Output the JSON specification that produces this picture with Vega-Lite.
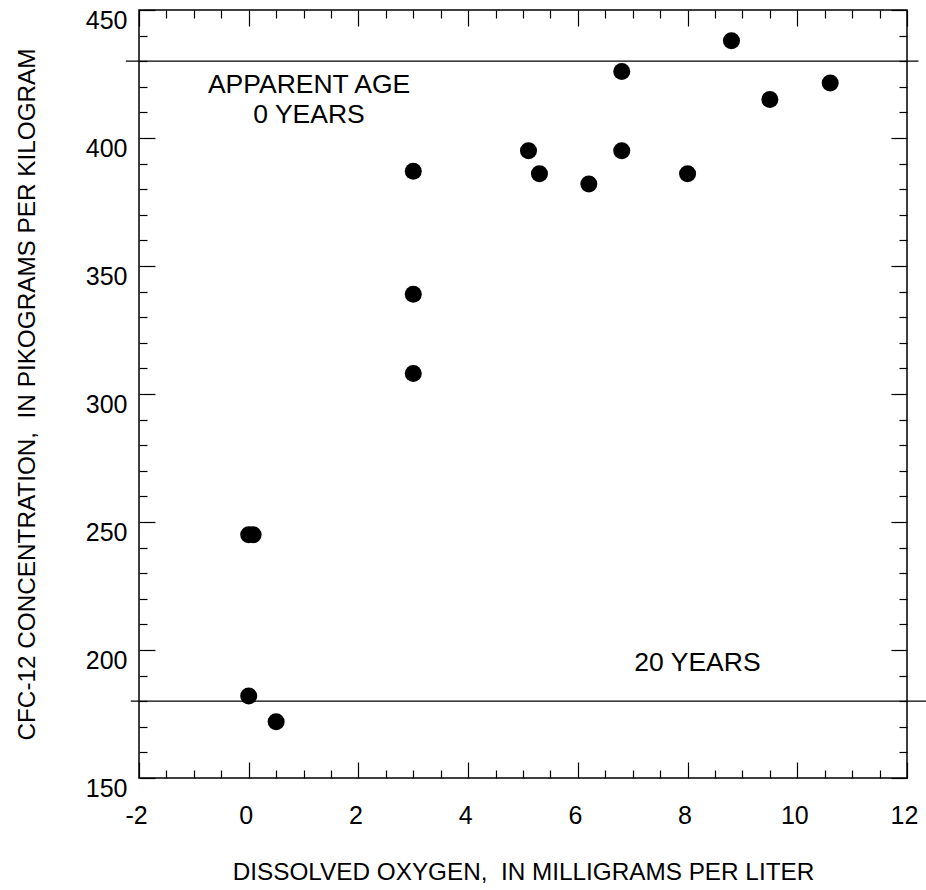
{
  "$schema": "https://vega.github.io/schema/vega-lite/v6.json",
  "width": 768,
  "height": 768,
  "autosize": {"type": "none"},
  "padding": {"left": 139, "top": 10, "right": 19, "bottom": 112},
  "background": "white",
  "config": {
    "view": {"stroke": "black", "strokeWidth": 1.5},
    "font": "Liberation Sans",
    "axis": {
      "domain": false,
      "grid": false,
      "labelFlush": false,
      "tickColor": "black",
      "tickWidth": 1.2,
      "labelColor": "black",
      "titleColor": "black",
      "labelFont": "Liberation Sans",
      "titleFont": "Liberation Sans",
      "labelFontSize": 25,
      "titleFontSize": 24.3,
      "titleFontWeight": "normal"
    }
  },
  "datasets": {
    "samples": [
      {"oxygen": 0.0, "cfc12": 245},
      {"oxygen": 0.08, "cfc12": 245},
      {"oxygen": 0.0, "cfc12": 182},
      {"oxygen": 0.5, "cfc12": 172},
      {"oxygen": 3.0, "cfc12": 387},
      {"oxygen": 3.0, "cfc12": 339},
      {"oxygen": 3.0, "cfc12": 308},
      {"oxygen": 5.1, "cfc12": 395},
      {"oxygen": 5.3, "cfc12": 386},
      {"oxygen": 6.2, "cfc12": 382},
      {"oxygen": 6.8, "cfc12": 426},
      {"oxygen": 6.8, "cfc12": 395},
      {"oxygen": 8.0, "cfc12": 386},
      {"oxygen": 8.8, "cfc12": 438},
      {"oxygen": 9.5, "cfc12": 415},
      {"oxygen": 10.6, "cfc12": 421.5}
    ],
    "ageLines": [
      {"from": -2.24, "to": 12.21, "cfc12": 430},
      {"from": -2.15, "to": 12.4, "cfc12": 180}
    ],
    "notes": [
      {"oxygen": 1.1, "cfc12": 420.8, "note": "APPARENT AGE"},
      {"oxygen": 1.1, "cfc12": 409.1, "note": "0 YEARS"},
      {"oxygen": 8.18, "cfc12": 194.9, "note": "20 YEARS"}
    ]
  },
  "resolve": {"axis": {"x": "independent", "y": "independent"}},
  "layer": [
    {
      "data": {"name": "samples"},
      "mark": {"type": "point", "shape": "circle", "filled": true, "color": "black", "opacity": 1, "size": 290},
      "encoding": {
        "x": {
          "field": "oxygen", "type": "quantitative",
          "scale": {"domain": [-2, 12], "nice": false, "zero": false},
          "axis": {
            "orient": "bottom", "ticks": false, "labelPadding": 25, "labelOffset": -3,
            "values": [-2, 0, 2, 4, 6, 8, 10, 12],
            "labelExpr": "'' + datum.value",
            "title": "DISSOLVED OXYGEN, \u00a0IN MILLIGRAMS PER LITER",
            "titleX": 384, "titleY": 94, "titleBaseline": "middle", "titleAlign": "center"
          }
        },
        "y": {
          "field": "cfc12", "type": "quantitative",
          "scale": {"domain": [150, 450], "nice": false, "zero": false},
          "axis": {
            "orient": "left", "ticks": false, "labelPadding": 12, "labelOffset": 10,
            "values": [150, 200, 250, 300, 350, 400, 450],
            "title": "CFC-12 CONCENTRATION, \u00a0IN PIKOGRAMS PER KILOGRAM",
            "titleX": -112, "titleY": 384, "titleAngle": 270,
            "titleBaseline": "middle", "titleAlign": "center"
          }
        }
      }
    },
    {
      "data": {"name": "ageLines"},
      "transform": [{"filter": "datum.cfc12 == 430"}],
      "mark": {"type": "rule", "color": "black", "strokeWidth": 1.3, "clip": false},
      "encoding": {
        "x": {
          "field": "from", "type": "quantitative",
          "axis": {
            "orient": "bottom", "labels": false, "title": null, "offset": -16, "tickSize": 16,
            "values": [-2, 0, 2, 4, 6, 8, 10, 12]
          }
        },
        "x2": {"field": "to"},
        "y": {
          "field": "cfc12", "type": "quantitative",
          "axis": {
            "orient": "left", "labels": false, "title": null, "offset": -16, "tickSize": 16,
            "values": [150, 200, 250, 300, 350, 400, 450]
          }
        }
      }
    },
    {
      "data": {"name": "ageLines"},
      "transform": [{"filter": "datum.cfc12 == 180"}],
      "mark": {"type": "rule", "color": "black", "strokeWidth": 1.3, "clip": false},
      "encoding": {
        "x": {
          "field": "from", "type": "quantitative",
          "axis": {
            "orient": "bottom", "labels": false, "title": null, "offset": -8, "tickSize": 8,
            "values": [-1.5, -1, -0.5, 0.5, 1, 1.5, 2.5, 3, 3.5, 4.5, 5, 5.5, 6.5, 7, 7.5, 8.5, 9, 9.5, 10.5, 11, 11.5]
          }
        },
        "x2": {"field": "to"},
        "y": {
          "field": "cfc12", "type": "quantitative",
          "axis": {
            "orient": "left", "labels": false, "title": null, "offset": -8, "tickSize": 8,
            "values": [160, 170, 180, 190, 210, 220, 230, 240, 260, 270, 280, 290, 310, 320, 330, 340, 360, 370, 380, 390, 410, 420, 430, 440]
          }
        }
      }
    },
    {
      "data": {"name": "notes"},
      "transform": [{"filter": "datum.oxygen < 5"}],
      "mark": {"type": "text", "align": "center", "baseline": "middle", "fontSize": 26.5, "color": "black", "font": "Liberation Sans"},
      "encoding": {
        "x": {
          "field": "oxygen", "type": "quantitative",
          "axis": {
            "orient": "top", "labels": false, "title": null, "offset": -16, "tickSize": 16,
            "values": [-2, 0, 2, 4, 6, 8, 10, 12]
          }
        },
        "y": {
          "field": "cfc12", "type": "quantitative",
          "axis": {
            "orient": "right", "labels": false, "title": null, "offset": -16, "tickSize": 16,
            "values": [150, 200, 250, 300, 350, 400, 450]
          }
        },
        "text": {"field": "note"}
      }
    },
    {
      "data": {"name": "notes"},
      "transform": [{"filter": "datum.oxygen > 5"}],
      "mark": {"type": "text", "align": "center", "baseline": "middle", "fontSize": 26.5, "color": "black", "font": "Liberation Sans"},
      "encoding": {
        "x": {
          "field": "oxygen", "type": "quantitative",
          "axis": {
            "orient": "top", "labels": false, "title": null, "offset": -8, "tickSize": 8,
            "values": [-1.5, -1, -0.5, 0.5, 1, 1.5, 2.5, 3, 3.5, 4.5, 5, 5.5, 6.5, 7, 7.5, 8.5, 9, 9.5, 10.5, 11, 11.5]
          }
        },
        "y": {
          "field": "cfc12", "type": "quantitative",
          "axis": {
            "orient": "right", "labels": false, "title": null, "offset": -8, "tickSize": 8,
            "values": [160, 170, 180, 190, 210, 220, 230, 240, 260, 270, 280, 290, 310, 320, 330, 340, 360, 370, 380, 390, 410, 420, 430, 440]
          }
        },
        "text": {"field": "note"}
      }
    }
  ]
}
